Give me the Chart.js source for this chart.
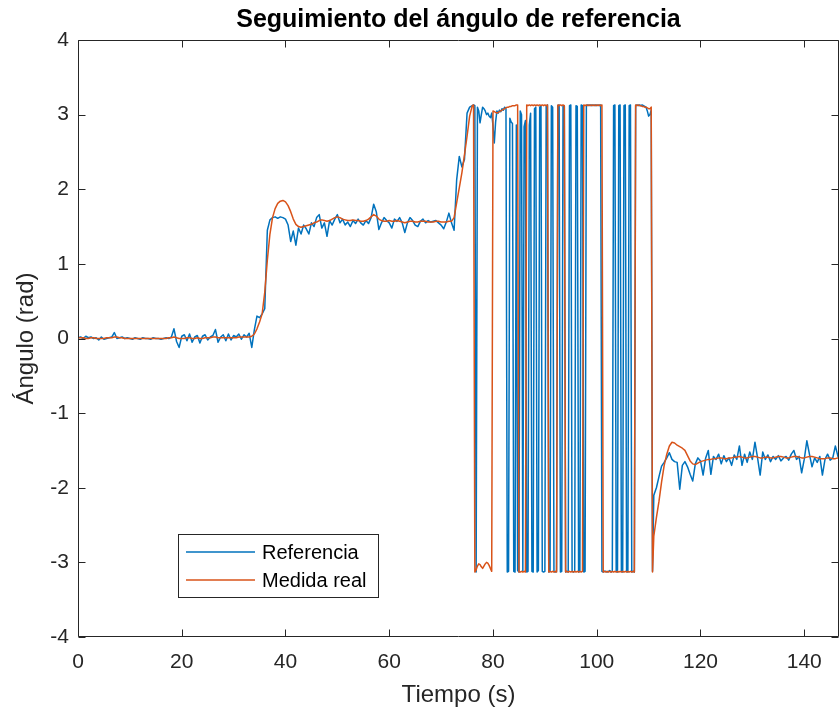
<!DOCTYPE html>
<html>
<head>
<meta charset="utf-8">
<script src="https://cdn.jsdelivr.net/npm/chart.js@4.4.1/dist/chart.umd.min.js"></script>
<style>
  html, body { margin: 0; padding: 0; background: #ffffff; }
  #wrap { width: 839px; height: 715px; }
</style>
</head>
<body>
<div id="wrap"><canvas id="c" width="839" height="715"></canvas></div>
<script>
// Axis ticks
const xTicks = [0, 20, 40, 60, 80, 100, 120, 140];
const yTicks = [-4, -3, -2, -1, 0, 1, 2, 3, 4];

// Sample clocks of the three logged segments (start time, step in s)
const clockA = { t0: 0, dt: 0.5 };
const clockB = { t0: 76.25, dt: 0.25 };
const clockC = { t0: 111.5, dt: 0.5 };

// Reference angle (rad)
const refA = [
  0.01, 0.02, 0.00, 0.03, 0.01, 0.02, 0.00, 0.01, -0.02, 0.02,
  -0.01, 0.00, 0.01, 0.02, 0.08, 0.00, 0.01, 0.02, 0.00, 0.01,
  0.00, -0.01, 0.01, 0.00, -0.01, 0.01, 0.00, 0.00, -0.01, 0.01,
  0.00, 0.00, -0.01, 0.00, 0.01, 0.00, 0.02, 0.13, -0.04, -0.12,
  0.03, 0.05, -0.03, 0.06, -0.05, 0.02, 0.04, -0.06, 0.03, 0.05,
  -0.02, 0.02, 0.04, 0.12, -0.05, 0.02, 0.05, -0.03, 0.06, -0.02,
  0.04, 0.02, 0.06, -0.01, 0.05, 0.02, 0.07, -0.12, 0.12, 0.30,
  0.28, 0.33, 0.40, 1.45, 1.59, 1.62, 1.63, 1.61, 1.63, 1.62,
  1.60, 1.52, 1.30, 1.44, 1.25, 1.48, 1.40, 1.52, 1.47, 1.40,
  1.55, 1.50, 1.62, 1.66, 1.48, 1.55, 1.37, 1.58, 1.52, 1.60,
  1.66, 1.55, 1.60, 1.52, 1.56, 1.50, 1.58, 1.54, 1.60, 1.55,
  1.52, 1.58, 1.54, 1.62, 1.80, 1.70, 1.46, 1.55, 1.62, 1.58,
  1.55, 1.48, 1.60, 1.57, 1.62, 1.55, 1.42, 1.55, 1.62, 1.58,
  1.52, 1.50, 1.57, 1.60, 1.55, 1.58, 1.56, 1.57, 1.58, 1.55,
  1.52, 1.47, 1.56, 1.68, 1.55, 1.45, 2.13, 2.44, 2.30, 2.40,
  3.02, 3.10, 3.12
];
const refB = [
  3.13, 3.12, -3.13, 3.10, 3.05, 2.89, 3.00, 3.10, 3.08, 3.05,
  3.00, 3.02, 2.98, 2.96, 3.02, 2.85, 2.62, 2.90, 3.05, 3.02,
  3.06, 3.04, 3.08, 3.06, 3.10, 3.08, -3.13, -3.12, 2.95, 2.90,
  2.88, -3.12, -3.13, 2.86, -3.11, -3.13, 3.05, 3.00, -3.12, 2.84,
  2.92, -3.13, -3.12, 2.86, 3.02, -3.12, -3.13, 3.08, 3.10, -3.13,
  -3.11, 3.10, 3.12, -3.12, -3.13, -3.12, 3.11, 3.13, -3.13, -3.12,
  3.12, 3.10, -3.12, -3.13, -3.12, 3.12, 3.13, -3.13, -3.12, 3.12,
  3.11, -3.13, -3.12, -3.13, 3.12, 3.13, -3.12, -3.13, -3.12, 3.12,
  3.11, -3.13, -3.12, 3.13, 3.12, -3.13, -3.12, 3.12, 3.13, 3.12,
  3.13, 3.12, 3.13, 3.12, 3.13, 3.12, 3.13, 3.12, 3.13, -3.12,
  -3.13, -3.12, -3.12, -3.13, -3.12, -3.11, -3.13, -3.12, 3.12, 3.13,
  -3.12, -3.13, 3.12, 3.13, -3.12, -3.13, 3.12, 3.13, -3.12, -3.13,
  3.12, 3.13, -3.13, -3.12, -3.13, 3.12, 3.13, 3.12, 3.13, 3.12,
  3.13, 3.12, 3.11, 3.10, 3.05, 2.98, 3.00, 3.06, -3.12, -2.10
];
const refC = [
  -2.00, -1.85, -1.71, -1.66, -1.60, -1.53, -1.62, -1.65, -1.66, -2.02,
  -1.70, -1.65, -1.72, -1.82, -1.91, -1.68, -1.60, -1.64, -1.83, -1.60,
  -1.50, -1.82, -1.58, -1.62, -1.55, -1.68, -1.57, -1.65, -1.60, -1.70,
  -1.56, -1.62, -1.44, -1.70, -1.55, -1.66, -1.52, -1.62, -1.39, -1.60,
  -1.83, -1.52, -1.62, -1.56, -1.65, -1.58, -1.62, -1.57, -1.64, -1.60,
  -1.58, -1.63, -1.55, -1.50, -1.62, -1.58, -1.80, -1.62, -1.37, -1.55,
  -1.72, -1.60, -1.66, -1.58, -1.83, -1.62, -1.55, -1.63, -1.60, -1.44,
  -1.58, -1.62
];

// Measured angle (rad)
const measA = [
  0.01, 0.01, 0.01, 0.00, 0.00, 0.01, 0.01, 0.00, 0.00, 0.00,
  0.00, 0.01, 0.01, 0.01, 0.02, 0.02, 0.01, 0.01, 0.00, 0.00,
  0.00, 0.00, 0.00, 0.00, 0.00, 0.00, 0.00, 0.00, 0.00, 0.00,
  0.00, 0.00, 0.00, 0.00, 0.00, 0.01, 0.01, 0.02, 0.01, 0.00,
  0.00, 0.00, 0.01, 0.01, 0.00, 0.00, 0.01, 0.00, 0.00, 0.01,
  0.01, 0.01, 0.02, 0.02, 0.01, 0.01, 0.01, 0.01, 0.01, 0.01,
  0.01, 0.01, 0.02, 0.02, 0.02, 0.02, 0.02, 0.03, 0.06, 0.13,
  0.22, 0.33, 0.62, 1.05, 1.40, 1.62, 1.74, 1.81, 1.84, 1.85,
  1.83, 1.78, 1.70, 1.60, 1.53, 1.50, 1.49, 1.50, 1.51, 1.52,
  1.53, 1.55, 1.56, 1.58, 1.59, 1.58, 1.57, 1.58, 1.60, 1.62,
  1.63, 1.62, 1.60, 1.59, 1.58, 1.58, 1.59, 1.58, 1.58, 1.57,
  1.57, 1.58, 1.60, 1.63, 1.66, 1.64, 1.60, 1.58, 1.57, 1.57,
  1.58, 1.57, 1.57, 1.58, 1.57, 1.56, 1.55, 1.56, 1.57, 1.57,
  1.56, 1.56, 1.57, 1.57, 1.57, 1.56, 1.56, 1.56, 1.57, 1.57,
  1.56, 1.56, 1.56, 1.57, 1.57, 1.62, 1.82, 2.02, 2.22, 2.46,
  2.71, 2.98, 3.12
];
const measB = [
  3.13, -3.13, -3.10, -3.05, -3.02, -3.03, -3.06, -3.08, -3.05, -3.02,
  -3.00, -3.01, -3.04, -3.08, -3.12, 3.05, 3.04, 3.03, 3.02, 3.03,
  3.04, 3.05, 3.06, 3.07, 3.08, 3.09, 3.10, 3.10, 3.11, 3.11,
  3.12, 3.12, 3.12, 3.13, 3.13, -3.13, -3.13, -3.12, -3.13, -3.12,
  -3.13, 3.13, 3.12, 3.13, 3.12, 3.13, 3.12, 3.13, 3.12, 3.13,
  3.12, 3.13, 3.12, 3.13, 3.12, 3.13, 3.12, 3.13, -3.13, -3.12,
  -3.13, -3.12, -3.13, -3.12, -3.13, 3.13, 3.12, 3.13, 3.12, 3.13,
  3.12, -3.13, -3.12, -3.13, -3.12, -3.13, -3.12, -3.13, -3.12, -3.13,
  -3.12, -3.13, -3.12, -3.13, -3.12, 3.13, 3.12, 3.13, 3.12, 3.13,
  3.12, 3.13, 3.12, 3.13, 3.12, 3.13, 3.12, 3.13, 3.12, 3.13,
  -3.13, -3.12, -3.13, -3.12, -3.13, -3.12, -3.13, -3.12, -3.13, -3.12,
  -3.13, -3.12, -3.13, -3.12, -3.13, -3.12, -3.13, -3.12, -3.13, -3.12,
  -3.13, -3.12, -3.13, -3.12, -3.13, 3.13, 3.12, 3.13, 3.12, 3.12,
  3.11, 3.11, 3.10, 3.10, 3.09, 3.08, 3.08, 3.10, -3.13, -2.65
];
const measC = [
  -2.40, -2.18, -1.92, -1.70, -1.55, -1.44, -1.39, -1.40, -1.43, -1.45,
  -1.47, -1.50, -1.57, -1.64, -1.68, -1.69, -1.67, -1.65, -1.64, -1.63,
  -1.62, -1.62, -1.61, -1.61, -1.60, -1.60, -1.61, -1.61, -1.60, -1.60,
  -1.59, -1.59, -1.58, -1.59, -1.60, -1.60, -1.59, -1.58, -1.58, -1.59,
  -1.60, -1.60, -1.59, -1.59, -1.60, -1.60, -1.59, -1.58, -1.58, -1.59,
  -1.60, -1.60, -1.59, -1.58, -1.58, -1.59, -1.60, -1.60, -1.59, -1.58,
  -1.58, -1.59, -1.60, -1.61, -1.61, -1.61, -1.60, -1.60, -1.61, -1.61,
  -1.60, -1.60
];

const FONT = '"Liberation Sans", Arial, Helvetica, sans-serif';
const AXIS_COLOR = '#262626';

function withClock(clock, values) {
  return values.map((v, i) => ({ x: +(clock.t0 + i * clock.dt).toFixed(3), y: v }));
}
const refPoints = [...withClock(clockA, refA), ...withClock(clockB, refB), ...withClock(clockC, refC)];
const measPoints = [...withClock(clockA, measA), ...withClock(clockB, measB), ...withClock(clockC, measC)];

// Box around the axes with inward tick marks on all four sides
const axesFrame = {
  id: 'axesFrame',
  afterDatasetsDraw(chart) {
    const { ctx, chartArea: a, scales: { x, y } } = chart;
    const L = 7;
    ctx.save();
    ctx.strokeStyle = AXIS_COLOR;
    ctx.lineWidth = 1;
    const left = Math.round(a.left) + 0.5, right = Math.round(a.right) - 0.5;
    const top = Math.round(a.top) + 0.5, bottom = Math.round(a.bottom) - 0.5;
    ctx.beginPath();
    ctx.rect(left, top, right - left, bottom - top);
    xTicks.forEach(v => {
      const px = Math.round(x.getPixelForValue(v)) + 0.5;
      ctx.moveTo(px, bottom); ctx.lineTo(px, bottom - L);
      ctx.moveTo(px, top); ctx.lineTo(px, top + L);
    });
    yTicks.forEach(v => {
      const py = Math.round(y.getPixelForValue(v)) + 0.5;
      ctx.moveTo(left, py); ctx.lineTo(left + L, py);
      ctx.moveTo(right, py); ctx.lineTo(right - L, py);
    });
    ctx.stroke();
    ctx.restore();
  }
};

// Legend box in the lower-left part of the axes
const boxedLegend = {
  id: 'boxedLegend',
  afterDraw(chart) {
    const { ctx } = chart;
    const bx = 178.5, by = 534.5, bw = 200, bh = 63;
    ctx.save();
    ctx.fillStyle = '#ffffff';
    ctx.fillRect(bx, by, bw, bh);
    ctx.strokeStyle = AXIS_COLOR;
    ctx.lineWidth = 1;
    ctx.strokeRect(bx, by, bw, bh);
    const rows = [552, 580];
    chart.data.datasets.forEach((ds, i) => {
      const yy = rows[i];
      ctx.strokeStyle = ds.borderColor;
      ctx.lineWidth = 1.5;
      ctx.beginPath();
      ctx.moveTo(186, yy);
      ctx.lineTo(255, yy);
      ctx.stroke();
      ctx.fillStyle = '#000000';
      ctx.font = '20px ' + FONT;
      ctx.textAlign = 'left';
      ctx.textBaseline = 'middle';
      ctx.fillText(ds.label, 262, yy + 1);
    });
    ctx.restore();
  }
};

new Chart(document.getElementById('c'), {
  type: 'line',
  data: {
    datasets: [
      {
        label: 'Referencia',
        data: refPoints,
        borderColor: '#0072BD',
        borderWidth: 1.5,
        pointRadius: 0,
        tension: 0,
        fill: false,
        borderJoinStyle: 'round',
        order: 1
      },
      {
        label: 'Medida real',
        data: measPoints,
        borderColor: '#D95319',
        borderWidth: 1.5,
        pointRadius: 0,
        tension: 0,
        fill: false,
        borderJoinStyle: 'round',
        order: 0
      }
    ]
  },
  options: {
    responsive: false,
    animation: false,
    devicePixelRatio: 1,
    events: [],
    layout: { padding: { top: 0, right: 0, bottom: 0, left: 0 } },
    plugins: {
      legend: { display: false },
      tooltip: { enabled: false },
      title: {
        display: true,
        text: 'Seguimiento del ángulo de referencia',
        color: '#000000',
        font: { family: FONT, size: 25, weight: 'bold' },
        padding: { top: 5, bottom: 5 },
        fullSize: false
      }
    },
    scales: {
      x: {
        type: 'linear',
        min: 0,
        max: 146.7,
        afterBuildTicks: s => { s.ticks = xTicks.map(v => ({ value: v })); },
        afterFit: s => { s.height = 78; },
        grid: { display: false, drawTicks: false },
        border: { display: false },
        ticks: {
          color: AXIS_COLOR,
          font: { family: FONT, size: 21 },
          padding: 13,
          maxRotation: 0,
          autoSkip: false
        },
        title: {
          display: true,
          text: 'Tiempo (s)',
          color: AXIS_COLOR,
          font: { family: FONT, size: 24 },
          padding: { top: 0, bottom: 5 }
        }
      },
      y: {
        type: 'linear',
        min: -4,
        max: 4,
        afterBuildTicks: s => { s.ticks = yTicks.map(v => ({ value: v })); },
        afterFit: s => { s.width = 78; },
        grid: { display: false, drawTicks: false },
        border: { display: false },
        ticks: {
          color: AXIS_COLOR,
          font: { family: FONT, size: 21 },
          padding: 9,
          autoSkip: false
        },
        title: {
          display: true,
          text: 'Ángulo (rad)',
          color: AXIS_COLOR,
          font: { family: FONT, size: 24 },
          padding: { top: 12, bottom: 0 }
        }
      }
    }
  },
  plugins: [axesFrame, boxedLegend]
});
</script>
</body>
</html>
